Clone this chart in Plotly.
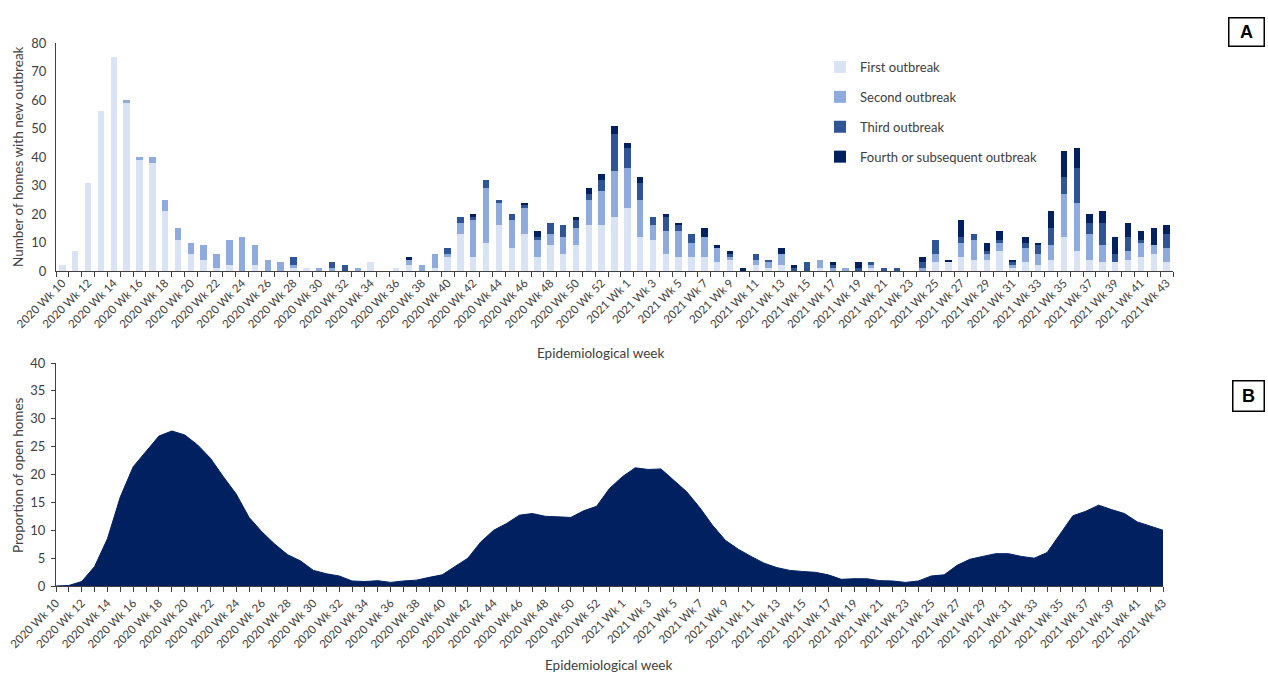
import plotly.graph_objects as go

# ---------------- data ----------------
weeks = [f"2020 Wk {w}" for w in range(10, 54)] + [f"2021 Wk {w}" for w in range(1, 44)]

first_outbreak = [2, 7, 31, 56, 75, 59, 39, 38, 21, 11, 6, 4, 1, 2, 0, 2, 0, 0, 1, 1,
                  0, 0, 0, 0, 3, 0, 1, 2, 0, 1, 5, 13, 5, 10, 16, 8, 13, 5, 9, 6,
                  9, 16, 16, 19, 22, 12, 11, 6, 5, 5, 5, 3, 4, 0, 2, 1, 2, 0, 0, 1,
                  0, 0, 0, 1, 0, 0, 0, 0, 3, 3, 5, 4, 4, 7, 1, 3, 2, 4, 12, 7,
                  4, 3, 3, 4, 5, 6, 3]
second_outbreak = [0, 0, 0, 0, 0, 1, 1, 2, 4, 4, 4, 5, 5, 9, 12, 7, 4, 3, 1, 0,
                   1, 1, 0, 1, 0, 0, 0, 2, 2, 5, 1, 4, 13, 19, 8, 10, 9, 6, 4, 6,
                   6, 9, 12, 16, 14, 13, 5, 8, 9, 5, 7, 5, 1, 0, 2, 2, 4, 0, 0, 3,
                   1, 1, 0, 1, 0, 0, 0, 1, 3, 0, 5, 7, 2, 3, 1, 5, 4, 5, 15, 17,
                   9, 6, 0, 3, 5, 3, 5]
third_outbreak = [0, 0, 0, 0, 0, 0, 0, 0, 0, 0, 0, 0, 0, 0, 0, 0, 0, 0, 3, 0,
                  0, 2, 2, 0, 0, 0, 0, 0, 0, 0, 2, 2, 1, 3, 1, 2, 1, 1, 4, 4,
                  3, 2, 4, 13, 7, 6, 3, 5, 2, 3, 0, 0, 1, 0, 2, 1, 0, 1, 3, 0,
                  1, 0, 1, 1, 1, 1, 0, 2, 5, 0, 2, 2, 1, 1, 1, 2, 3, 6, 6, 12,
                  4, 8, 3, 5, 1, 0, 5]
fourth_outbreak = [0, 0, 0, 0, 0, 0, 0, 0, 0, 0, 0, 0, 0, 0, 0, 0, 0, 0, 0, 0,
                   0, 0, 0, 0, 0, 0, 0, 1, 0, 0, 0, 0, 1, 0, 0, 0, 1, 2, 0, 0,
                   1, 2, 2, 3, 2, 2, 0, 1, 1, 0, 3, 1, 1, 1, 0, 0, 2, 1, 0, 0,
                   1, 0, 2, 0, 0, 0, 0, 2, 0, 1, 6, 0, 3, 3, 1, 2, 1, 6, 9, 7,
                   3, 4, 6, 5, 3, 6, 3]

open_homes_pct = [0, 0.1, 0.8, 3.5, 8.5, 16.0, 21.4, 24.1, 26.9, 27.8, 27.1, 25.3, 22.9, 19.6,
                  16.5, 12.3, 9.7, 7.5, 5.6, 4.5, 2.8, 2.2, 1.8, 0.9, 0.8, 0.95, 0.65, 0.9,
                  1.05, 1.55, 2.0, 3.5, 5.0, 7.9, 10.0, 11.2, 12.7, 13.0, 12.5, 12.4, 12.3,
                  13.5, 14.3, 17.5, 19.6, 21.2,
                  20.9, 21.0, 19.0, 16.9, 14.1, 10.9, 8.2, 6.6, 5.3, 4.1, 3.3, 2.8, 2.6, 2.45,
                  2.0, 1.2, 1.3, 1.3, 0.96, 0.9, 0.65, 0.9, 1.8, 2.0, 3.7, 4.8, 5.3, 5.8, 5.8,
                  5.3, 5.0, 6.0, 9.3, 12.6, 13.4, 14.5, 13.7, 13.0, 11.5, 10.7, 10.0]

series_names = ["First outbreak", "Second outbreak", "Third outbreak",
                "Fourth or subsequent outbreak"]
series_values = [first_outbreak, second_outbreak, third_outbreak, fourth_outbreak]
series_colors = ["#DAE3F3", "#8FAADC", "#2F5597", "#002060"]

for s in series_values + [open_homes_pct]:
    assert len(s) == len(weeks), len(s)

# ---------------- layout helpers ----------------
W, H = 1268, 680
def px(x):
    return x / W
def py(y):
    return 1 - y / H

TXT = "#404040"
FONT = "Lato"
tick_text = [w if i % 2 == 0 else "" for i, w in enumerate(weeks)]

fig = go.Figure()

for name, vals, col in zip(series_names, series_values, series_colors):
    fig.add_trace(go.Bar(x=weeks, y=vals, name=name, marker_color=col,
                         marker_line_width=0, xaxis="x", yaxis="y",
                         legendgroup=name))

fig.add_trace(go.Scatter(x=weeks, y=open_homes_pct, mode="lines", fill="tozeroy",
                         line=dict(color="#002060", width=1), fillcolor="#002060",
                         showlegend=False, xaxis="x2", yaxis="y2"))

axis_common = dict(showgrid=False, zeroline=False, showline=True, linecolor=TXT,
                   linewidth=1)

fig.update_layout(
    width=W, height=H,
    margin=dict(l=0, r=0, t=0, b=0, autoexpand=False),
    paper_bgcolor="white", plot_bgcolor="white",
    font=dict(family=FONT, color=TXT, size=12),
    barmode="stack", bargap=0.5,
    xaxis=dict(axis_common, domain=[px(56), px(1173)], anchor="y", type="category",
               range=[-0.5, len(weeks) - 0.5], tickmode="array", tickvals=weeks,
               ticktext=tick_text, tickangle=-45, ticks="outside", ticklen=5,
               tickcolor=TXT, tickson="boundaries", tickfont=dict(size=11.5)),
    yaxis=dict(axis_common, domain=[py(271), py(43)], anchor="x", range=[0, 80],
               dtick=10, ticks="", tickfont=dict(size=13), ticklabelstandoff=6),
    xaxis2=dict(axis_common, domain=[px(56), px(1163)], anchor="y2", type="category",
                range=[0, len(weeks) - 1], tickmode="array", tickvals=weeks,
                ticktext=tick_text, tickangle=-45, ticks="outside", ticklen=5,
                tickcolor=TXT, tickfont=dict(size=11.5)),
    yaxis2=dict(axis_common, domain=[py(586), py(363)], anchor="x2", range=[0, 40],
                dtick=5, ticks="outside", ticklen=4, tickcolor=TXT,
                tickfont=dict(size=13), ticklabelstandoff=3),
    legend=dict(x=px(820), y=py(52), xanchor="left", yanchor="top",
                traceorder="grouped", tracegroupgap=10,
                font=dict(size=13, color=TXT), bgcolor="rgba(0,0,0,0)",
                itemwidth=30),
    showlegend=True,
)

annotations = [
    dict(text="Number of homes with new outbreak", x=px(18), y=py(157), textangle=-90,
         font=dict(size=13.5, color=TXT)),
    dict(text="Epidemiological week", x=px(600), y=py(353), font=dict(size=13.5, color=TXT)),
    dict(text="Proportion of open homes", x=px(18), y=py(475), textangle=-90,
         font=dict(size=13.5, color=TXT)),
    dict(text="Epidemiological week", x=px(608), y=py(665), font=dict(size=13.5, color=TXT)),
    dict(text="<b>A</b>", x=px(1246.5), y=py(32), width=34, height=27,
         font=dict(size=18, color="black", family="Liberation Sans"),
         bordercolor="black", borderwidth=1.5, borderpad=0, bgcolor="white"),
    dict(text="<b>B</b>", x=px(1248.5), y=py(396), width=30, height=29,
         font=dict(size=18, color="black", family="Liberation Sans"),
         bordercolor="black", borderwidth=1.5, borderpad=0, bgcolor="white"),
]
for a in annotations:
    a.update(xref="paper", yref="paper", showarrow=False, xanchor="center",
             yanchor="middle")
fig.update_layout(annotations=annotations)

fig.write_html("out.html", config={"displayModeBar": False},
               post_script="document.body.style.margin='0';"
                           "document.body.style.overflow='hidden';")
